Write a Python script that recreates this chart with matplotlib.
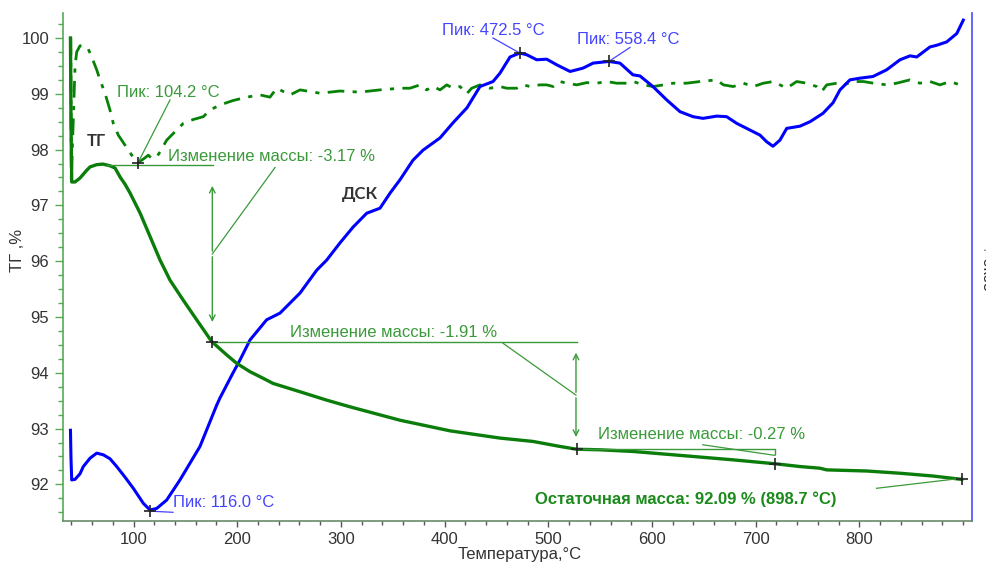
import matplotlib
matplotlib.use("Agg")
import matplotlib.pyplot as plt
from matplotlib.ticker import MultipleLocator

# ---------------- data ----------------
tg_t = [39.2, 39.7, 40.4, 43.6, 48.4, 54.9, 58.1, 64.5, 70.6, 77.3, 82.2, 87.0, 91.8, 96.7,
        106.4, 116.0, 125.6, 135.2, 148.0, 160.9, 175.4, 189.9, 199.5, 212.3, 225.2, 234.5,
        260.6, 286.3, 308.8, 357.0, 405.2, 453.4, 485.2, 511.3, 527.4, 549.9, 581.7, 614.2,
        646.3, 678.1, 718.6, 742.7, 762.0, 768.5, 807.0, 839.2, 871.0, 898.7]
tg_v = [100.0, 98.53, 97.42, 97.42, 97.49, 97.63, 97.69, 97.73, 97.74, 97.71, 97.67, 97.51,
        97.38, 97.22, 96.86, 96.44, 96.02, 95.66, 95.30, 94.95, 94.56, 94.32, 94.17, 94.02,
        93.90, 93.81, 93.66, 93.51, 93.39, 93.15, 92.96, 92.83, 92.77, 92.68, 92.63, 92.62,
        92.59, 92.54, 92.49, 92.44, 92.37, 92.32, 92.29, 92.26, 92.24, 92.20, 92.15, 92.09]

dsc_t = [39.2, 39.7, 40.4, 43.6, 48.4, 51.6, 58.1, 64.5, 70.9, 77.3, 83.8, 91.8, 99.8, 109.5,
         116.0, 122.4, 132.0, 144.8, 164.1, 180.2, 183.4, 196.0, 202.7, 212.4, 228.4, 241.3,
         260.6, 276.7, 286.3, 299.2, 311.7, 324.9, 337.7, 347.4, 357.0, 369.5, 379.2, 395.6,
         408.1, 421.6, 434.1, 446.7, 453.4, 463.1, 472.5, 479.2, 488.8, 498.5, 508.1, 521.0,
         533.5, 543.2, 558.4, 569.1, 581.6, 588.4, 600.9, 614.2, 627.0, 639.5, 649.2, 662.4,
         672.0, 681.7, 694.5, 704.1, 710.6, 716.7, 723.4, 729.9, 742.7, 752.4, 764.9, 774.6,
         781.3, 790.9, 800.6, 813.1, 826.3, 839.2, 848.8, 855.3, 868.1, 874.6, 884.2, 893.9,
         900.2]
dsc_v = [92.97, 92.47, 92.08, 92.09, 92.19, 92.32, 92.47, 92.56, 92.53, 92.46, 92.32, 92.13,
         91.93, 91.66, 91.54, 91.57, 91.72, 92.08, 92.68, 93.42, 93.55, 94.00, 94.23, 94.59,
         94.95, 95.07, 95.43, 95.84, 96.02, 96.33, 96.61, 96.86, 96.95, 97.22, 97.46, 97.81,
         97.99, 98.21, 98.48, 98.75, 99.13, 99.22, 99.37, 99.66, 99.73, 99.70, 99.61, 99.62,
         99.52, 99.40, 99.46, 99.55, 99.58, 99.55, 99.34, 99.32, 99.13, 98.89, 98.68, 98.59,
         98.56, 98.60, 98.59, 98.47, 98.35, 98.26, 98.14, 98.06, 98.17, 98.38, 98.42, 98.50,
         98.65, 98.84, 99.07, 99.25, 99.28, 99.31, 99.43, 99.61, 99.68, 99.66, 99.84, 99.87,
         99.93, 100.08, 100.32]

dtg_t = [39.5, 40.0, 43.6, 45.2, 48.4, 51.6, 56.4, 59.7, 64.5, 67.7, 72.5, 77.3, 80.5, 85.3,
         91.8, 98.3, 104.2, 109.4, 114.3, 117.6, 122.4, 125.6, 132.0, 138.4, 148.0, 157.7,
         167.3, 173.8, 183.4, 196.1, 209.2, 222.0, 231.6, 238.1, 251.0, 260.6, 280.0, 299.0,
         318.0, 337.7, 357.0, 366.6, 376.3, 382.6, 389.1, 395.6, 402.0, 408.4, 414.9, 421.3,
         426.1, 434.1, 443.7, 453.4, 459.9, 469.5, 475.9, 482.4, 491.9, 498.5, 504.8, 511.3,
         517.7, 527.4, 537.0, 546.7, 556.3, 566.0, 575.6, 582.0, 591.6, 601.3, 610.9, 620.6,
         633.4, 646.3, 662.4, 668.8, 678.4, 688.1, 697.7, 707.4, 717.0, 723.4, 729.9, 739.5,
         749.2, 758.8, 763.6, 768.5, 778.1, 784.5, 794.2, 803.8, 813.5, 826.3, 835.9, 848.8,
         858.4, 868.1, 877.7, 887.4, 896.9]
dtg_v = [100.0, 97.45, 99.49, 99.75, 99.86, 99.87, 99.80, 99.66, 99.43, 99.25, 99.01, 98.71,
         98.47, 98.26, 98.08, 97.90, 97.76, 97.83, 97.90, 97.84, 97.87, 97.96, 98.17, 98.29,
         98.47, 98.54, 98.59, 98.71, 98.80, 98.88, 98.94, 98.98, 98.94, 99.10, 98.98, 99.07,
         99.01, 99.05, 99.03, 99.07, 99.10, 99.10, 99.16, 99.07, 99.13, 99.07, 99.16, 99.10,
         99.13, 99.00, 99.10, 99.16, 99.10, 99.13, 99.10, 99.10, 99.16, 99.13, 99.16, 99.16,
         99.13, 99.22, 99.19, 99.16, 99.20, 99.19, 99.22, 99.19, 99.19, 99.22, 99.16, 99.13,
         99.16, 99.19, 99.19, 99.22, 99.25, 99.16, 99.13, 99.19, 99.13, 99.19, 99.22, 99.16,
         99.10, 99.22, 99.19, 99.13, 99.04, 99.16, 99.19, 99.16, 99.22, 99.22, 99.19, 99.16,
         99.19, 99.25, 99.19, 99.22, 99.16, 99.22, 99.16]

x_ticks = [100, 200, 300, 400, 500, 600, 700, 800]
y_ticks = [92, 93, 94, 95, 96, 97, 98, 99, 100]

# ---------------- style ----------------
GREEN = '#0b7d0b'
LGREEN = '#3a9a3a'
BLUE = '#0000ff'
LBLUE = '#4444ff'
FONT = ['Liberation Sans', 'DejaVu Sans']
plt.rcParams['font.family'] = FONT

fig = plt.figure(figsize=(9.87, 5.62), dpi=100)
ax = fig.add_axes([63/987, 1-521/562, (972-63)/987, (521-13)/562])
ax.set_xlim(32.0, 908.6)
ax.set_ylim(91.344, 100.448)

ax.spines['top'].set_visible(False)
ax.spines['left'].set_color('#55aa55')
ax.spines['right'].set_color('#4a4aff')
ax.spines['bottom'].set_color('#6a8a6a')
for s in ax.spines.values():
    s.set_linewidth(1.2)

ax.xaxis.set_major_locator(MultipleLocator(100))
ax.xaxis.set_minor_locator(MultipleLocator(20))
ax.yaxis.set_major_locator(MultipleLocator(1))
ax.yaxis.set_minor_locator(MultipleLocator(0.25))
ax.set_xticks(x_ticks)
ax.set_yticks(y_ticks)
ax.tick_params(axis='y', which='major', length=6, width=1, color='#55aa55', labelsize=12,
               labelcolor='#333333', pad=4)
ax.tick_params(axis='y', which='minor', length=3.5, width=1, color='#55aa55')
ax.tick_params(axis='x', which='major', length=4, width=1, color='#555555', labelsize=12,
               labelcolor='#333333', pad=4)
ax.tick_params(axis='x', which='minor', length=3, width=1, color='#555555')

# ---------------- curves ----------------
ax.plot(dtg_t, dtg_v, color='#078207', lw=2.0, dashes=(6, 3, 1.5, 3))
ax.plot(dsc_t, dsc_v, color=BLUE, lw=2.2)
ax.plot(tg_t, tg_v, color=GREEN, lw=2.4)

# ---------------- annotations ----------------
mk = dict(marker='+', color='#222222', ms=9, mew=1.2, ls='none', zorder=6)
def pt(x, y):
    ax.plot([x], [y], **mk)

tl = dict(color=LGREEN, lw=1.0)
afs = 12

# peak 104.2 (DTG)
pt(104.2, 97.76)
ax.plot([104.2, 135.2], [97.76, 98.89], color=LGREEN, lw=0.9)
ax.text(84.1, 99.03, 'Пик: 104.2 °C', color=LGREEN, fontsize=afs, va='center', ha='left')

# mass change -3.17
ax.plot([74.5, 176.6], [97.72, 97.72], **tl)
ax.annotate('', xy=(176.0, 97.40), xytext=(176.0, 96.13),
            arrowprops=dict(arrowstyle='->', color=LGREEN, lw=1.0))
ax.annotate('', xy=(176.0, 94.86), xytext=(176.0, 96.13),
            arrowprops=dict(arrowstyle='->', color=LGREEN, lw=1.0))
ax.plot([176.0, 236.5], [96.13, 97.68], color=LGREEN, lw=0.9)
ax.text(133.3, 97.87, 'Изменение массы: -3.17 %', color=LGREEN, fontsize=afs,
        va='center', ha='left')
pt(175.4, 94.56)

# mass change -1.91
ax.plot([175.4, 527.4], [94.55, 94.55], **tl)
ax.annotate('', xy=(526.7, 94.41), xytext=(526.7, 93.60),
            arrowprops=dict(arrowstyle='->', color=LGREEN, lw=1.0))
ax.annotate('', xy=(526.7, 92.80), xytext=(526.7, 93.60),
            arrowprops=dict(arrowstyle='->', color=LGREEN, lw=1.0))
ax.plot([526.7, 456.3], [93.60, 94.53], color=LGREEN, lw=0.9)
ax.text(250.9, 94.73, 'Изменение массы: -1.91 %', color=LGREEN, fontsize=afs,
        va='center', ha='left')
pt(527.4, 92.63)

# mass change -0.27
ax.plot([527.4, 718.6, 718.6], [92.63, 92.63, 92.55], **tl)
ax.plot([649.0, 718.6], [92.71, 92.52], color=LGREEN, lw=0.9)
ax.text(547.9, 92.89, 'Изменение массы: -0.27 %', color=LGREEN, fontsize=afs,
        va='center', ha='left')
pt(718.6, 92.37)

# residual mass
pt(898.7, 92.09)
ax.plot([816.5, 898.7], [91.93, 92.11], color=LGREEN, lw=0.9)
ax.text(487.2, 91.74, 'Остаточная масса: 92.09 % (898.7 °C)', color='#1a8a1a',
        fontsize=12, fontweight='bold', va='center', ha='left')

# DSC peaks
pt(116.0, 91.52)
ax.plot([116.0, 138.1], [91.52, 91.50], color=LBLUE, lw=0.9)
ax.text(138.1, 91.67, 'Пик: 116.0 °C', color=LBLUE, fontsize=afs, va='center', ha='left')

pt(472.5, 99.73)
ax.plot([472.5, 446.7], [99.73, 100.0], color=LBLUE, lw=0.9)
ax.text(397.5, 100.14, 'Пик: 472.5 °C', color=LBLUE, fontsize=afs, va='center', ha='left')

pt(558.4, 99.58)
ax.plot([558.4, 578.8], [99.58, 99.83], color=LBLUE, lw=0.9)
ax.text(527.7, 99.98, 'Пик: 558.4 °C', color=LBLUE, fontsize=afs, va='center', ha='left')

# curve labels
ax.text(55.0, 98.15, 'ТГ', color='#333333', fontsize=12, va='center', ha='left',
        family=['Lato', 'DejaVu Sans'], fontweight='bold')
ax.text(300.8, 97.20, 'ДСК', color='#333333', fontsize=12, va='center', ha='left',
        family=['Lato', 'DejaVu Sans'], fontweight='bold')

# axis titles
fig.text(520/987, 1-559/562, 'Температура,°C', ha='center', va='baseline', fontsize=12,
         color='#333333')
fig.text(18/987, 1-250/562, 'ТГ ,%', ha='center', va='center', fontsize=12,
         color='#333333', rotation=90)
fig.text(988/987, 1-268/562, '↑ экзо', ha='center', va='center', fontsize=12,
         color='#333333', rotation=270)

fig.savefig('out.png', dpi=100)
